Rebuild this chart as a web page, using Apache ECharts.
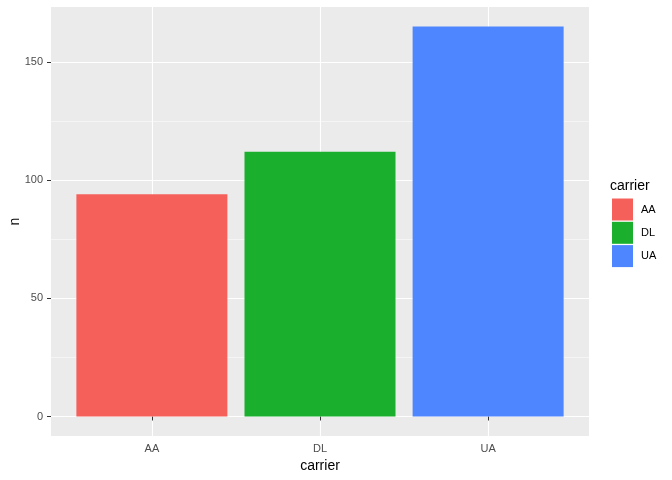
<!DOCTYPE html>
<html>
<head>
<meta charset="utf-8">
<script src="https://cdn.jsdelivr.net/npm/echarts@6/dist/echarts.min.js"></script>
<style>html,body{margin:0;padding:0;background:#fff}#c{width:672px;height:480px}</style>
</head>
<body>
<div id="c"></div>
<script>
var categories = ['AA', 'DL', 'UA'];
var counts = [94, 112, 165];
var colors = ['#F5605B', '#1AB02E', '#4E86FF'];
var yMajor = [0, 50, 100, 150];
var yMinor = [25, 75, 125];
var xPositions = [1, 2, 3];

var FONT = '"Liberation Sans", Arial, sans-serif';
var chart = echarts.init(document.getElementById('c'), null, {renderer: 'canvas'});

var series = categories.map(function (c, i) {
  return {
    name: c,
    type: 'bar',
    stack: 'all',
    xAxisIndex: 0,
    yAxisIndex: 0,
    barWidth: 151,
    itemStyle: {color: colors[i], borderWidth: 0},
    emphasis: {disabled: true},
    data: [[xPositions[i], counts[i]]]
  };
});

chart.setOption({
  animation: false,
  textStyle: {fontFamily: FONT},
  grid: {left: 51, right: 83, top: 7, bottom: 44, show: true, backgroundColor: '#EBEBEB', borderWidth: 0,
         containLabel: false, outerBoundsMode: 'none'},
  title: {
    text: 'carrier', left: 610, top: 179, padding: 0,
    textStyle: {fontSize: 14, fontWeight: 'normal', color: '#000', fontFamily: FONT}
  },
  legend: {
    orient: 'vertical', left: 612, top: 198.5, padding: 0,
    itemWidth: 21, itemHeight: 22, itemGap: 1.3, icon: 'rect',
    data: categories,
    textStyle: {fontSize: 11, color: '#000', fontFamily: FONT, padding: [0, 0, 0, 3]}
  },
  xAxis: [{
    type: 'value', min: 0.4, max: 3.6,
    name: 'carrier', nameLocation: 'middle', nameGap: 23, nameMoveOverlap: false,
    nameTextStyle: {fontSize: 14, color: '#000', fontFamily: FONT},
    axisLine: {show: false},
    axisTick: {show: true, length: 4, customValues: xPositions, lineStyle: {color: '#333', width: 1}},
    axisLabel: {
      customValues: xPositions, margin: 7, fontSize: 11, color: '#4D4D4D', fontFamily: FONT,
      formatter: function (v) { return categories[Math.round(v) - 1] || ''; }
    },
    splitLine: {show: true, lineStyle: {color: '#FFFFFF', width: 1.1}}
  }],
  yAxis: [{
    type: 'value', min: -8.25, max: 173.25,
    name: 'n', nameLocation: 'middle', nameGap: 29, nameRotate: 90, nameMoveOverlap: false,
    nameTextStyle: {fontSize: 14, color: '#000', fontFamily: FONT},
    axisLine: {show: false},
    axisTick: {show: true, length: 4, customValues: yMajor, lineStyle: {color: '#333', width: 1}},
    axisLabel: {customValues: yMajor, margin: 8, fontSize: 11, color: '#4D4D4D', fontFamily: FONT},
    splitLine: {show: true, lineStyle: {color: '#FFFFFF', width: 1.1}}
  }, {
    type: 'value', min: -8.25, max: 173.25, position: 'left',
    axisLine: {show: false},
    axisTick: {show: false, customValues: yMinor},
    axisLabel: {show: false, customValues: yMinor},
    splitLine: {show: true, lineStyle: {color: '#FFFFFF', width: 0.5}}
  }],
  series: series
});
</script>
</body>
</html>
